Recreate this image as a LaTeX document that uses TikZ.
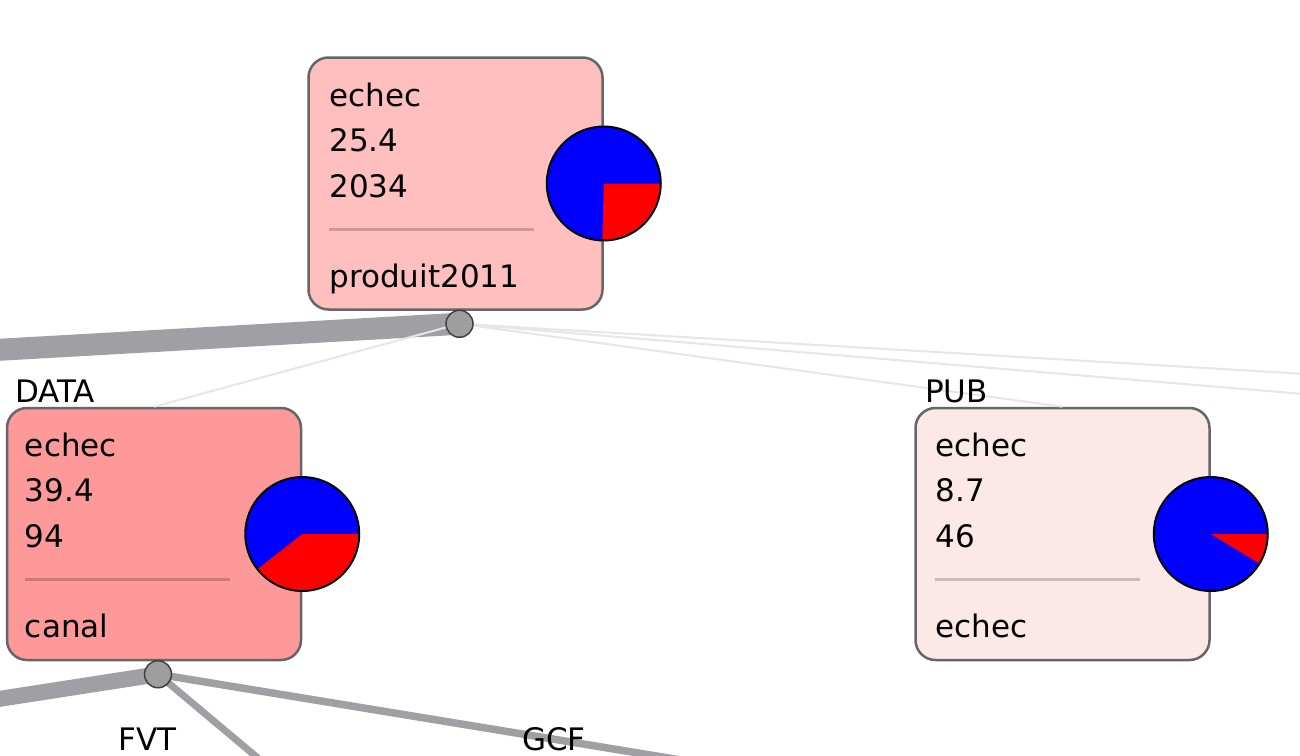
\documentclass[tikz,border=0pt]{standalone}
\usepackage{fontspec}
\setmainfont{DejaVu Sans}
\usetikzlibrary{calc}
\definecolor{rootfill}{RGB}{255,191,191}
\definecolor{datafill}{RGB}{253,153,153}
\definecolor{pubfill}{RGB}{253,232,232}
\definecolor{edgegray}{RGB}{160,160,164}
\definecolor{thingray}{RGB}{230,230,230}
\def\pie(#1)(#2){\fill[blue] (#1) circle (57); \fill[red] (#1) -- ++(0:57) arc (0:{#2*3.6}:57) -- cycle; \draw[line width=0.7mm] (#1) circle (57);}
\tikzset{
	treebox/.style={draw=black!60, line width=2.5pt, rounded corners=20pt, minimum width=294pt, minimum height=252pt},
	knob/.style={circle, draw=black!75, line width=1.5pt, fill=black!38, minimum size=27pt, inner sep=0pt},
	txt/.style={anchor=base west, inner sep=0pt, font=\fontsize{31}{37}\selectfont},
	sep/.style={line width=3pt, black, opacity=0.2}
}

\begin{document}
\begin{tikzpicture}[x=1pt, y=-1pt]
		%%%%% START %%%%%
		\useasboundingbox (0,0) rectangle (1300,755);
		\clip (0,0) rectangle (1300,755);
		\fill[white] (0,0) rectangle (1300,755);
		
		\node[treebox, fill=rootfill] (root) at (455.5,183.5) {};
		\node[treebox, fill=datafill] (data) at (154,534) {};
		\node[treebox, fill=pubfill] (pub) at (1062.5,534) {};
		
		\coordinate (rootdot) at ($(root.south)+(4,13)$);
		\coordinate (datadot) at ($(data.south)+(4,13)$);
		\coordinate (up) at (-40,352);
		\coordinate (farA) at (1340,376);
		\coordinate (farB) at (1340,397);
		\coordinate (left) at (-40,705);
		\coordinate (fvt) at (290,785);
		\coordinate (gcf) at (760,773);
		
		\draw[line width=22pt, edgegray] (rootdot) -- (up);
		\draw[line width=2pt, thingray] (rootdot) -- (data.north);
		\draw[line width=2pt, thingray] (rootdot) -- (pub.north);
		\draw[line width=2pt, thingray] (rootdot) -- (farA);
		\draw[line width=2pt, thingray] (rootdot) -- (farB);
		
		\draw[line width=16pt, edgegray] (datadot) -- (left);
		\draw[line width=7pt, edgegray] (datadot) -- (fvt);
		\draw[line width=7.5pt, edgegray] (datadot) -- (gcf);
		
		\node[txt] (rootclass) at ($(root.north west)+(22,50)$) {echec};
		\node[txt] (rootpct) at ($(root.north west)+(22,95)$) {25.4};
		\node[txt] (rootn) at ($(root.north west)+(22,141)$) {2034};
		\draw[sep] ($(root.north west)+(22,173)$) -- ($(root.north west)+(227,173)$);
		\node[txt] (rootattr) at ($(root.north west)+(22,231)$) {produit2011};
		\pie(root.east)(25.4);
		
		\node[txt] (dataclass) at ($(data.north west)+(19,50)$) {echec};
		\node[txt] (datapct) at ($(data.north west)+(19,95)$) {39.4};
		\node[txt] (datan) at ($(data.north west)+(19,141)$) {94};
		\draw[sep] ($(data.north west)+(19,173)$) -- ($(data.north west)+(224,173)$);
		\node[txt] (dataattr) at ($(data.north west)+(19,231)$) {canal};
		\pie(data.east)(39.4);
		
		\node[txt] (pubclass) at ($(pub.north west)+(21,50)$) {echec};
		\node[txt] (pubpct) at ($(pub.north west)+(21,95)$) {8.7};
		\node[txt] (pubn) at ($(pub.north west)+(21,141)$) {46};
		\draw[sep] ($(pub.north west)+(21,173)$) -- ($(pub.north west)+(226,173)$);
		\node[txt] (pubattr) at ($(pub.north west)+(21,231)$) {echec};
		\pie(pub.east)(8.7);
		
		\node[knob] (rootknob) at (rootdot) {};
		\node[knob] (dataknob) at (datadot) {};
		
		\node[txt] (datalab) at (15,402) {DATA};
		\node[txt] (publab) at (925,402) {PUB};
		\node[txt] (fvtlab) at (118,750) {FVT};
		\node[txt] (gcflab) at (522,750) {GCF};
		
		%%%%% END %%%%%
\end{tikzpicture}
\end{document}
